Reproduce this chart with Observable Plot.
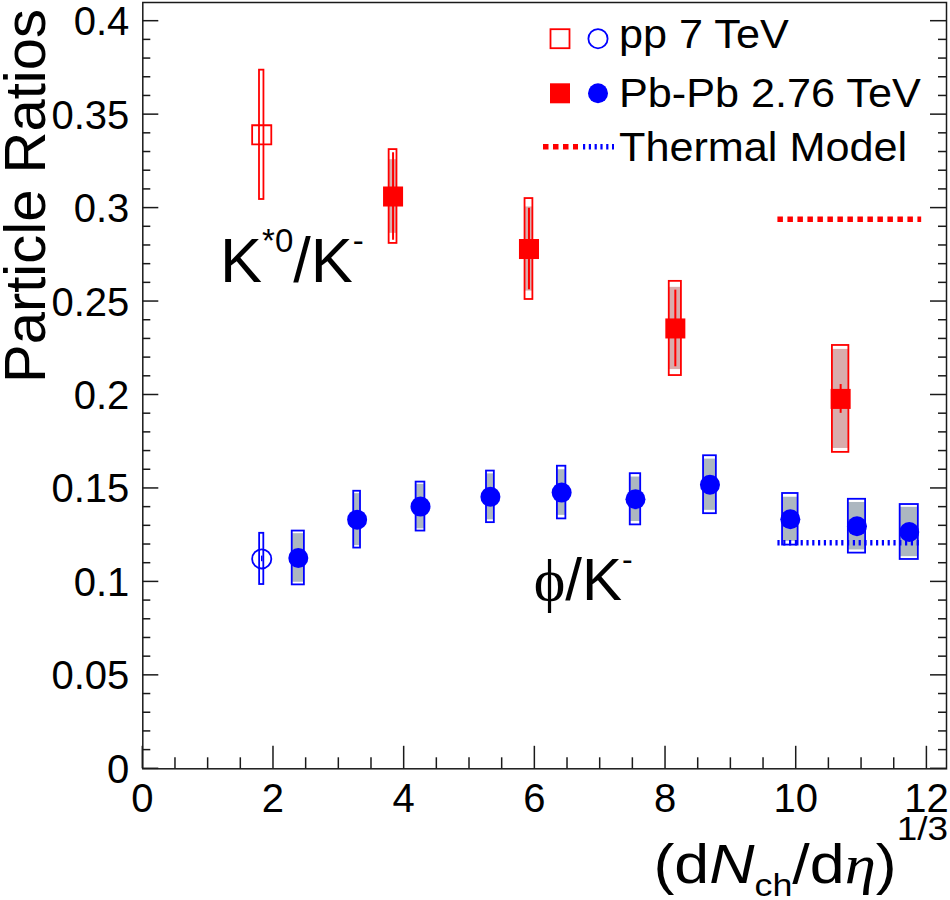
<!DOCTYPE html>
<html><head><meta charset="utf-8">
<script src="https://cdn.jsdelivr.net/npm/d3@7"></script>
<script src="https://cdn.jsdelivr.net/npm/@observablehq/plot@0.6"></script>
<style>html,body{margin:0;padding:0;background:#fff}#chart svg{display:block}</style>
</head><body><div id="chart"></div>
<script>
// ---------- data ----------
// K*0/K- , pp 7 TeV
const kstarPPX = [1.82];
const kstarPPY = [0.3392];
const kstarPPSys = [0.0346];
const kstarPPXErr = [0.034];
// K*0/K- , Pb-Pb 2.76 TeV
const kstarPbX = [3.83, 5.91, 8.15, 10.68];
const kstarPbY = [0.3062, 0.2781, 0.2356, 0.1979];
const kstarPbStat = [0.0234, 0.0218, 0.0205, 0.0077];
const kstarPbSys = [0.0251, 0.0270, 0.0252, 0.0286];
const kstarPbSysUnc = [0.0197, 0.0225, 0.0220, 0.0265];
const kstarPbXErr = [0.060, 0.060, 0.093, 0.126];
// phi/K- , pp 7 TeV
const phiPPX = [1.82];
const phiPPY = [0.1123];
const phiPPStat = [0.0015];
const phiPPSys = [0.0137];
const phiPPXErr = [0.032];
// phi/K- , Pb-Pb 2.76 TeV
const phiPbX = [2.38, 3.28, 4.25, 5.32, 6.41, 7.54, 8.68, 9.91, 10.93, 11.73];
const phiPbY = [0.1128, 0.1333, 0.1403, 0.1455, 0.1478, 0.1442, 0.1520, 0.1335, 0.1298, 0.1267];
const phiPbStat = [0.0020, 0.0020, 0.0020, 0.0020, 0.0020, 0.0020, 0.0020, 0.0020, 0.0020, 0.0020];
const phiPbSys = [0.0144, 0.0152, 0.0131, 0.0138, 0.0141, 0.0137, 0.0155, 0.0138, 0.0144, 0.0147];
const phiPbSysUnc = [0.0130, 0.0139, 0.0119, 0.0123, 0.0122, 0.0119, 0.0137, 0.0118, 0.0127, 0.0132];
const phiPbXErr = [0.093, 0.052, 0.067, 0.060, 0.065, 0.080, 0.098, 0.119, 0.132, 0.139];
// Thermal model
const thermalRatio = ["K*0/K-", "phi/K-"];
const thermalValue = [0.294, 0.121];
const thermalX1 = [9.72, 9.72];
const thermalX2 = [11.92, 11.92];
// axes
const xMajorTicks = [0, 2, 4, 6, 8, 10, 12];
const xTickLabels = ["0", "2", "4", "6", "8", "10", "12"];
const xMinorTicks = [0.5, 1, 1.5, 2.5, 3, 3.5, 4.5, 5, 5.5, 6.5, 7, 7.5, 8.5, 9, 9.5, 10.5, 11, 11.5];
const yMajorTicks = [0, 0.05, 0.1, 0.15, 0.2, 0.25, 0.3, 0.35, 0.4];
const yTickLabels = ["0", "0.05", "0.1", "0.15", "0.2", "0.25", "0.3", "0.35", "0.4"];
const yMinorTicks = [0.01,0.02,0.03,0.04,0.06,0.07,0.08,0.09,0.11,0.12,0.13,0.14,0.16,0.17,0.18,0.19,0.21,0.22,0.23,0.24,0.26,0.27,0.28,0.29,0.31,0.32,0.33,0.34,0.36,0.37,0.38,0.39];
const legendLabels = ["pp 7 TeV", "Pb-Pb 2.76 TeV", "Thermal Model"];

// ---------- tables ----------
const kstarPP = kstarPPX.map((x, i) => ({x, y: kstarPPY[i], sys: kstarPPSys[i], xe: kstarPPXErr[i]}));
const kstarPb = kstarPbX.map((x, i) => ({x, y: kstarPbY[i], stat: kstarPbStat[i], sys: kstarPbSys[i], unc: kstarPbSysUnc[i], xe: kstarPbXErr[i]}));
const phiPP = phiPPX.map((x, i) => ({x, y: phiPPY[i], stat: phiPPStat[i], sys: phiPPSys[i], xe: phiPPXErr[i]}));
const phiPb = phiPbX.map((x, i) => ({x, y: phiPbY[i], stat: phiPbStat[i], sys: phiPbSys[i], unc: phiPbSysUnc[i], xe: phiPbXErr[i]}));
const thermal = thermalRatio.map((r, i) => ({r, y: thermalValue[i], x1: thermalX1[i], x2: thermalX2[i]}));

const RED = "#ff0000", BLUE = "#0000ff", AX = "#1a1a1a";
const FONT = "Liberation Sans, Arial, Helvetica, sans-serif";
const SERIF = "Liberation Serif, DejaVu Serif, serif";

function boxMarks(data, color, grayFill) {
  const m = [];
  if (grayFill) m.push(Plot.rect(data, {x1: d => d.x - d.xe, x2: d => d.x + d.xe, y1: d => d.y - d.unc, y2: d => d.y + d.unc, fill: grayFill}));
  m.push(Plot.rect(data, {x1: d => d.x - d.xe, x2: d => d.x + d.xe, y1: d => d.y - d.sys, y2: d => d.y + d.sys, fill: "none", stroke: color, strokeWidth: 1.8}));
  return m;
}

// axes (inward ticks, left/right/bottom) + tick labels
function axesMark(index, scales, values, dims) {
  const {x, y} = scales;
  const g = d3.create("svg:g").attr("stroke", AX).attr("stroke-width", 1.5);
  const left = dims.marginLeft, right = dims.width - dims.marginRight, bottom = dims.height - dims.marginBottom;
  for (const t of yMajorTicks) {
    g.append("line").attr("x1", left).attr("x2", left + 16).attr("y1", y(t)).attr("y2", y(t));
    g.append("line").attr("x1", right).attr("x2", right - 16).attr("y1", y(t)).attr("y2", y(t));
  }
  for (const t of yMinorTicks) {
    g.append("line").attr("x1", left).attr("x2", left + 8).attr("y1", y(t)).attr("y2", y(t));
    g.append("line").attr("x1", right).attr("x2", right - 8).attr("y1", y(t)).attr("y2", y(t));
  }
  for (const t of xMajorTicks) g.append("line").attr("x1", x(t)).attr("x2", x(t)).attr("y1", bottom).attr("y2", bottom - 22.5);
  for (const t of xMinorTicks) g.append("line").attr("x1", x(t)).attr("x2", x(t)).attr("y1", bottom).attr("y2", bottom - 11);
  const lab = g.append("g").attr("stroke", "none").attr("fill", "#000").attr("font-family", FONT).attr("font-size", 40);
  yMajorTicks.forEach((t, i) => lab.append("text").attr("x", left - 13).attr("y", y(t) + 14.5).attr("text-anchor", "end").text(yTickLabels[i]));
  xMajorTicks.forEach((t, i) => lab.append("text").attr("x", x(t)).attr("y", bottom + 44).attr("text-anchor", "middle").text(xTickLabels[i]));
  return g.node();
}

// axis titles and ratio labels
function textMark(index, scales, values, dims) {
  const {x, y} = scales;
  const g = d3.create("svg:g").attr("fill", "#000").attr("font-family", FONT);
  // y title
  g.append("text").attr("transform", `translate(45,383) rotate(-90)`).attr("font-size", 58).attr("text-anchor", "start").text("Particle Ratios");
  // x title
  const xt = g.append("text").attr("transform", `translate(948,883) scale(1.12,1)`).attr("font-size", 56).attr("text-anchor", "end");
  xt.append("tspan").text("(d");
  xt.append("tspan").attr("font-style", "italic").text("N");
  xt.append("tspan").attr("font-size", 32).attr("dy", 13).text("ch");
  xt.append("tspan").attr("dy", -13).text("/d");
  xt.append("tspan").attr("font-family", SERIF).attr("font-style", "italic").text("η");
  xt.append("tspan").text(")");
  xt.append("tspan").attr("font-size", 33).attr("dy", -43).text("1/3");
  // K*0/K- label
  const kl = g.append("text").attr("x", x(1.19)).attr("y", y(0.2602)).attr("font-size", 63).attr("text-anchor", "start");
  kl.append("tspan").text("K");
  kl.append("tspan").attr("font-size", 33).attr("dy", -30).text("*0");
  kl.append("tspan").attr("dy", 30).text("/K");
  kl.append("tspan").attr("font-size", 33).attr("dy", -30).text("-");
  // phi/K- label
  const pl = g.append("text").attr("x", x(5.99)).attr("y", y(0.0900)).attr("font-size", 60).attr("text-anchor", "start");
  pl.append("tspan").attr("font-family", SERIF).text("ϕ");
  pl.append("tspan").text("/K");
  pl.append("tspan").attr("font-size", 32).attr("dy", -30).text("-");
  return g.node();
}

// legend inside the frame, top right
function legendMark(index, scales, values, dims) {
  const g = d3.create("svg:g").attr("font-family", FONT);
  const rows = [38.7, 93.3, 146.7], base = [48, 107, 161];
  g.append("rect").attr("x", 560 - 9.5).attr("y", rows[0] - 9.5).attr("width", 19).attr("height", 19).attr("fill", "none").attr("stroke", RED).attr("stroke-width", 1.8);
  g.append("circle").attr("cx", 598).attr("cy", rows[0]).attr("r", 9.6).attr("fill", "none").attr("stroke", BLUE).attr("stroke-width", 1.8);
  g.append("rect").attr("x", 560 - 10).attr("y", rows[1] - 10).attr("width", 20).attr("height", 20).attr("fill", RED);
  g.append("circle").attr("cx", 598).attr("cy", rows[1]).attr("r", 10).attr("fill", BLUE);
  g.append("line").attr("x1", 543).attr("x2", 578).attr("y1", rows[2]).attr("y2", rows[2]).attr("stroke", RED).attr("stroke-width", 5.5).attr("stroke-dasharray", "5.5,4.5");
  g.append("line").attr("x1", 583).attr("x2", 614).attr("y1", rows[2]).attr("y2", rows[2]).attr("stroke", BLUE).attr("stroke-width", 5.5).attr("stroke-dasharray", "2.2,3.6");
  legendLabels.forEach((t, i) => g.append("text").attr("transform", `translate(619,${base[i]}) scale(1.08,1)`).attr("font-size", 40).attr("fill", "#000").attr("text-anchor", "start").text(t));
  return g.node();
}

const chart = Plot.plot({
  width: 950,
  height: 900,
  marginLeft: 142.3,
  marginRight: 4,
  marginTop: 2,
  marginBottom: 131.7,
  style: {background: "#fff", fontFamily: FONT, overflow: "visible"},
  x: {domain: [0, 12.3], axis: null},
  y: {domain: [0, 0.41], axis: null},
  marks: [
    // phi/K-
    ...boxMarks(phiPb, BLUE, "#acb7c0"),
    ...boxMarks(phiPP, BLUE, null),
    Plot.ruleX(phiPP, {x: "x", y1: d => d.y - d.stat, y2: d => d.y + d.stat, stroke: BLUE, strokeWidth: 1.5}),
    Plot.ruleX(phiPb, {x: "x", y1: d => d.y - d.stat, y2: d => d.y + d.stat, stroke: BLUE, strokeWidth: 1.5}),
    Plot.dot(phiPP, {x: "x", y: "y", r: 9.6, fill: "none", stroke: BLUE, strokeWidth: 1.8}),
    Plot.dot(phiPb, {x: "x", y: "y", r: 10, fill: BLUE, stroke: "none"}),
    // K*0/K-
    ...boxMarks(kstarPb, RED, "#d9acac"),
    ...boxMarks(kstarPP, RED, null),
    Plot.ruleX(kstarPb, {x: "x", y1: d => d.y - d.stat, y2: d => d.y + d.stat, stroke: RED, strokeWidth: 2}),
    Plot.dot(kstarPP, {x: "x", y: "y", symbol: "square", r: 10.8, fill: "none", stroke: RED, strokeWidth: 1.8}),
    Plot.dot(kstarPb, {x: "x", y: "y", symbol: "square", r: 11.3, fill: RED, stroke: "none"}),
    // thermal model
    Plot.ruleY(thermal.filter(d => d.r === "K*0/K-"), {y: "y", x1: "x1", x2: "x2", stroke: RED, strokeWidth: 5.5, strokeDasharray: "5.5,4.5"}),
    Plot.ruleY(thermal.filter(d => d.r === "phi/K-"), {y: "y", x1: "x1", x2: "x2", stroke: BLUE, strokeWidth: 5.5, strokeDasharray: "2.2,3.6"}),
    Plot.frame({stroke: AX, strokeWidth: 1.5}),
    axesMark,
    textMark,
    legendMark
  ]
});
document.getElementById("chart").append(chart);
</script>
</body></html>
